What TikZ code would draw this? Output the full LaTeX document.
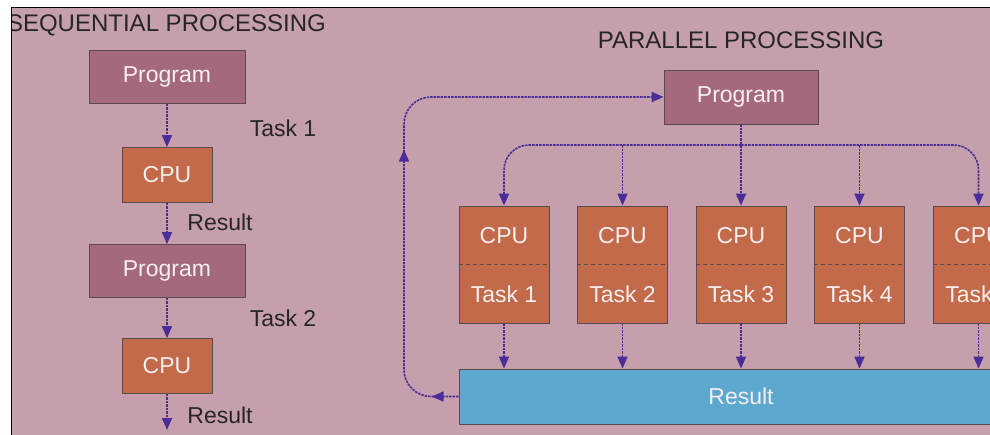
\documentclass[tikz,border=0pt]{standalone}
\usepackage{fontspec}
\setmainfont{Liberation Sans}
\usetikzlibrary{arrows.meta,decorations.markings}
\definecolor{bgpink}{HTML}{C5A0AC}
\definecolor{progc}{HTML}{A4697B}
\definecolor{cpuc}{HTML}{C36A4A}
\definecolor{resc}{HTML}{5DA8CE}
\definecolor{flowc}{HTML}{4A2D99}
\definecolor{boxline}{HTML}{5A4A50}
\definecolor{boxtext}{HTML}{F7EFEF}
\definecolor{labelc}{HTML}{262626}
\tikzset{
  tip/.tip={Triangle[length=12pt,width=10pt]},
  flow/.style={draw=flowc, line width=1.6pt, dash pattern=on 2.5pt off 1pt},
  box/.style={draw=boxline, line width=0.8pt, text=boxtext, inner sep=0pt,
    font=\fontsize{23}{27}\selectfont},
  prog/.style={box, fill=progc, minimum width=156pt, minimum height=53pt},
  cpu/.style={box, fill=cpuc, minimum width=90pt, minimum height=55pt},
  pcpu/.style={box, fill=cpuc, minimum width=90pt, minimum height=117pt},
  resbox/.style={box, fill=resc, minimum width=564pt, minimum height=55pt},
  boxtxt/.style={text=boxtext, inner sep=0pt, font=\fontsize{23}{27}\selectfont},
  lbl/.style={text=labelc, inner sep=0pt, font=\fontsize{23}{27}\selectfont},
  ttl/.style={text=labelc, inner sep=0pt, font=\fontsize{24}{28}\selectfont},
}
\begin{document}
\begin{tikzpicture}[x=1pt,y=-1pt]
\useasboundingbox (0,0) rectangle (990,434);
\clip (0,0) rectangle (990,434);
\fill[white] (0,0) rectangle (990,434);
\fill[bgpink] (12,8) rectangle (995,440);

% ---------- Sequential ----------
\node[ttl, anchor=east] (stitle) at (326,25) {SEQUENTIAL PROCESSING};
\fill[white] (0,0) rectangle (10.6,440);
\draw[black, line width=1.8pt] (11.5,440) -- (11.5,7.5) -- (995,7.5);
\node[prog] (p1) at (167,77) {Program};
\node[cpu]  (q1) at (167,175) {CPU};
\node[prog] (p2) at (167,271) {Program};
\node[cpu]  (q2) at (167,366) {CPU};
\coordinate (send) at (167,430);
\draw[flow,-tip] (p1.south) -- (q1.north);
\draw[flow,-tip] (q1.south) -- (p2.north);
\draw[flow,-tip] (p2.south) -- (q2.north);
\draw[flow,-tip] (q2.south) -- (send);
\node[lbl] (t1) at (283,128) {Task 1};
\node[lbl] (r1) at (220,222) {Result};
\node[lbl] (t2) at (283,318) {Task 2};
\node[lbl] (r2) at (220,415) {Result};

% ---------- Parallel ----------
\node[ttl] (ptitle) at (741,40) {PARALLEL PROCESSING};
\node[prog, minimum width=154pt, minimum height=54pt] (pp) at (741,97) {Program};
\node[resbox] (res) at (741,396.5) {Result};
\foreach \i/\x in {1/504,2/622.5,3/741,4/859.5,5/978.5}{
  \node[pcpu] (c\i) at (\x,264.5) {};
  \draw[boxline, line width=0.9pt, dash pattern=on 4pt off 3pt] (c\i.west) -- (c\i.east);
  \node[boxtxt] (cl\i) at (\x,236) {CPU};
  \node[boxtxt] (tl\i) at (\x,294) {Task \i};
  \draw[flow,-tip] (c\i.south) -- (c\i.south |- res.north);
}
\coordinate (bus) at (741,145);
\draw[flow,-tip, rounded corners=25pt] (bus) -| (c1.north);
\draw[flow,-tip, rounded corners=25pt] (bus) -| (c5.north);
\draw[flow,-tip] (pp.south) -- (c3.north);
\draw[flow,-tip] (c2.north |- bus) -- (c2.north);
\draw[flow,-tip] (c4.north |- bus) -- (c4.north);

% feedback loop
\coordinate (fbb) at (404,396.5);
\coordinate (fbt) at (404,97);
\draw[flow,-tip, rounded corners=27pt,
  postaction={decorate},
  decoration={markings,
    mark=at position 27pt with {\arrow{tip}},
    mark=at position 290pt with {\arrow{tip}}}]
  (res.west) -- (fbb) -- (fbt) -- (pp.west);
\end{tikzpicture}
\end{document}
